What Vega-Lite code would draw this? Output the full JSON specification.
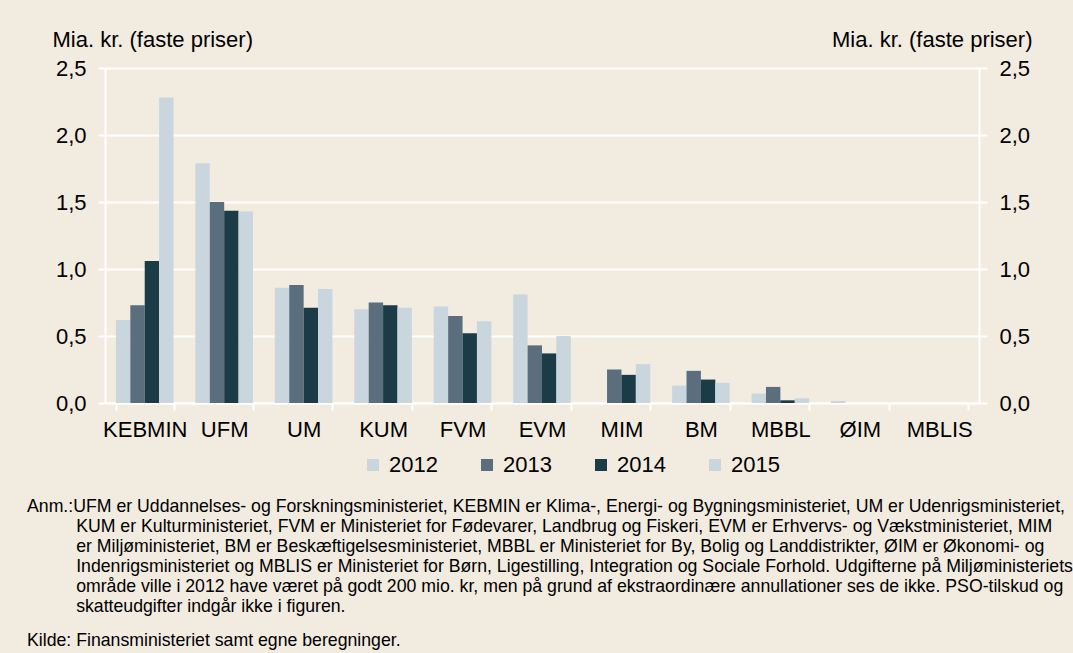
{
  "$schema": "https://vega.github.io/schema/vega-lite/v6.json",
  "width": 874,
  "height": 335,
  "autosize": {"type": "none"},
  "padding": {"left": 105, "top": 68, "right": 94, "bottom": 250},
  "background": "#f1ebe0",
  "config": {
    "view": {"stroke": null},
    "font": "Liberation Sans",
    "axis": {"labelFont": "Liberation Sans", "titleFont": "Liberation Sans", "labelColor": "#000", "titleColor": "#000", "titleFontWeight": "normal"}
  },
  "title": {
    "text": [
      "Anm.:UFM er Uddannelses- og Forskningsministeriet, KEBMIN er Klima-, Energi- og Bygningsministeriet, UM er Udenrigsministeriet,",
      "\u200b\u00a0\u00a0\u00a0\u00a0\u00a0\u00a0\u00a0\u00a0\u00a0\u00a0KUM er Kulturministeriet, FVM er Ministeriet for Fødevarer, Landbrug og Fiskeri, EVM er Erhvervs- og Vækstministeriet, MIM",
      "\u200b\u00a0\u00a0\u00a0\u00a0\u00a0\u00a0\u00a0\u00a0\u00a0\u00a0er Miljøministeriet, BM er Beskæftigelsesministeriet, MBBL er Ministeriet for By, Bolig og Landdistrikter, ØIM er Økonomi- og",
      "\u200b\u00a0\u00a0\u00a0\u00a0\u00a0\u00a0\u00a0\u00a0\u00a0\u00a0Indenrigsministeriet og MBLIS er Ministeriet for Børn, Ligestilling, Integration og Sociale Forhold. Udgifterne på Miljøministeriets",
      "\u200b\u00a0\u00a0\u00a0\u00a0\u00a0\u00a0\u00a0\u00a0\u00a0\u00a0område ville i 2012 have været på godt 200 mio. kr, men på grund af ekstraordinære annullationer ses de ikke. PSO-tilskud og",
      "\u200b\u00a0\u00a0\u00a0\u00a0\u00a0\u00a0\u00a0\u00a0\u00a0\u00a0skatteudgifter indgår ikke i figuren."
    ],
    "subtitle": "Kilde: Finansministeriet samt egne beregninger.",
    "orient": "bottom",
    "anchor": "start",
    "frame": "group",
    "dx": -78,
    "offset": 22,
    "font": "Liberation Sans",
    "fontSize": 17.7,
    "fontWeight": "normal",
    "lineHeight": 20,
    "color": "#000",
    "subtitleFont": "Liberation Sans",
    "subtitleFontSize": 17.7,
    "subtitleColor": "#000",
    "subtitlePadding": 16
  },
  "data": {
    "values": [
      {"ministry": "KEBMIN", "year": "2012", "value": 0.62},
      {"ministry": "KEBMIN", "year": "2013", "value": 0.73},
      {"ministry": "KEBMIN", "year": "2014", "value": 1.06},
      {"ministry": "KEBMIN", "year": "2015", "value": 2.28},
      {"ministry": "UFM", "year": "2012", "value": 1.79},
      {"ministry": "UFM", "year": "2013", "value": 1.50},
      {"ministry": "UFM", "year": "2014", "value": 1.435},
      {"ministry": "UFM", "year": "2015", "value": 1.43},
      {"ministry": "UM", "year": "2012", "value": 0.86},
      {"ministry": "UM", "year": "2013", "value": 0.88},
      {"ministry": "UM", "year": "2014", "value": 0.71},
      {"ministry": "UM", "year": "2015", "value": 0.85},
      {"ministry": "KUM", "year": "2012", "value": 0.70},
      {"ministry": "KUM", "year": "2013", "value": 0.75},
      {"ministry": "KUM", "year": "2014", "value": 0.73},
      {"ministry": "KUM", "year": "2015", "value": 0.71},
      {"ministry": "FVM", "year": "2012", "value": 0.72},
      {"ministry": "FVM", "year": "2013", "value": 0.65},
      {"ministry": "FVM", "year": "2014", "value": 0.52},
      {"ministry": "FVM", "year": "2015", "value": 0.61},
      {"ministry": "EVM", "year": "2012", "value": 0.81},
      {"ministry": "EVM", "year": "2013", "value": 0.43},
      {"ministry": "EVM", "year": "2014", "value": 0.37},
      {"ministry": "EVM", "year": "2015", "value": 0.50},
      {"ministry": "MIM", "year": "2012", "value": 0},
      {"ministry": "MIM", "year": "2013", "value": 0.25},
      {"ministry": "MIM", "year": "2014", "value": 0.21},
      {"ministry": "MIM", "year": "2015", "value": 0.29},
      {"ministry": "BM", "year": "2012", "value": 0.13},
      {"ministry": "BM", "year": "2013", "value": 0.24},
      {"ministry": "BM", "year": "2014", "value": 0.175},
      {"ministry": "BM", "year": "2015", "value": 0.15},
      {"ministry": "MBBL", "year": "2012", "value": 0.07},
      {"ministry": "MBBL", "year": "2013", "value": 0.12},
      {"ministry": "MBBL", "year": "2014", "value": 0.02},
      {"ministry": "MBBL", "year": "2015", "value": 0.035},
      {"ministry": "ØIM", "year": "2012", "value": 0.015},
      {"ministry": "ØIM", "year": "2013", "value": 0},
      {"ministry": "ØIM", "year": "2014", "value": 0},
      {"ministry": "ØIM", "year": "2015", "value": 0},
      {"ministry": "MBLIS", "year": "2012", "value": 0},
      {"ministry": "MBLIS", "year": "2013", "value": 0},
      {"ministry": "MBLIS", "year": "2014", "value": 0},
      {"ministry": "MBLIS", "year": "2015", "value": 0}
    ]
  },
  "encoding": {
    "x": {
      "field": "ministry", "type": "nominal", "sort": null,
      "scale": {"paddingInner": 0.275, "paddingOuter": 0.1375},
      "axis": {
        "title": null, "labelAngle": 0, "labelFontSize": 22, "labelPadding": 9,
        "domainColor": "#ffffff", "domainWidth": 2, "tickColor": "#ffffff", "tickWidth": 2, "tickSize": 7,
        "tickBand": "extent", "grid": false
      }
    },
    "xOffset": {"field": "year", "type": "nominal", "scale": {"paddingInner": 0, "paddingOuter": 0}},
    "y": {
      "field": "value", "type": "quantitative",
      "scale": {"domain": [0, 2.5], "nice": false}
    }
  },
  "layer": [
    {
      "mark": {"type": "bar"},
      "encoding": {
        "color": {
          "field": "year", "type": "nominal",
          "scale": {"domain": ["2012", "2013", "2014", "2015"], "range": ["#c9d6dd", "#5a6e7d", "#1b3b46", "#c9d6dd"]},
          "legend": {
            "title": null, "orient": "none", "direction": "horizontal",
            "legendX": 257, "legendY": 386,
            "symbolType": "square", "symbolSize": 144, "symbolStrokeWidth": 0,
            "labelFontSize": 22, "labelColor": "#000", "labelFont": "Liberation Sans", "labelOffset": 5,
            "columnPadding": 38
          }
        },
        "y": {
          "field": "value", "type": "quantitative",
          "scale": {"domain": [0, 2.5], "nice": false},
          "axis": {
            "orient": "left", "values": [0, 0.5, 1, 1.5, 2, 2.5],
            "labelExpr": "replace(format(datum.value, '.1f'), '.', ',')",
            "labelFontSize": 22, "labelPadding": 12,
            "domainColor": "#ffffff", "domainWidth": 2, "tickColor": "#ffffff", "tickWidth": 2, "tickSize": 7,
            "grid": true, "gridColor": "#ffffff", "gridWidth": 2, "gridOpacity": 1,
            "title": "Mia. kr. (faste priser)", "titleAngle": 0, "titleAlign": "left", "titleBaseline": "middle",
            "titleX": -53, "titleY": -29, "titleFontSize": 22
          }
        }
      }
    },
    {
      "mark": {"type": "bar", "opacity": 0},
      "encoding": {
        "y": {
          "field": "value", "type": "quantitative",
          "scale": {"domain": [0, 2.5], "nice": false},
          "axis": {
            "orient": "right", "values": [0, 0.5, 1, 1.5, 2, 2.5],
            "labelExpr": "replace(format(datum.value, '.1f'), '.', ',')",
            "labelFontSize": 22, "labelPadding": 12,
            "domainColor": "#ffffff", "domainWidth": 2, "tickColor": "#ffffff", "tickWidth": 2, "tickSize": 8,
            "grid": false,
            "title": "Mia. kr. (faste priser)", "titleAngle": 0, "titleAlign": "right", "titleBaseline": "middle",
            "titleX": 53, "titleY": -29, "titleFontSize": 22
          }
        }
      }
    }
  ],
  "resolve": {"scale": {"y": "shared"}, "axis": {"y": "independent"}}
}
